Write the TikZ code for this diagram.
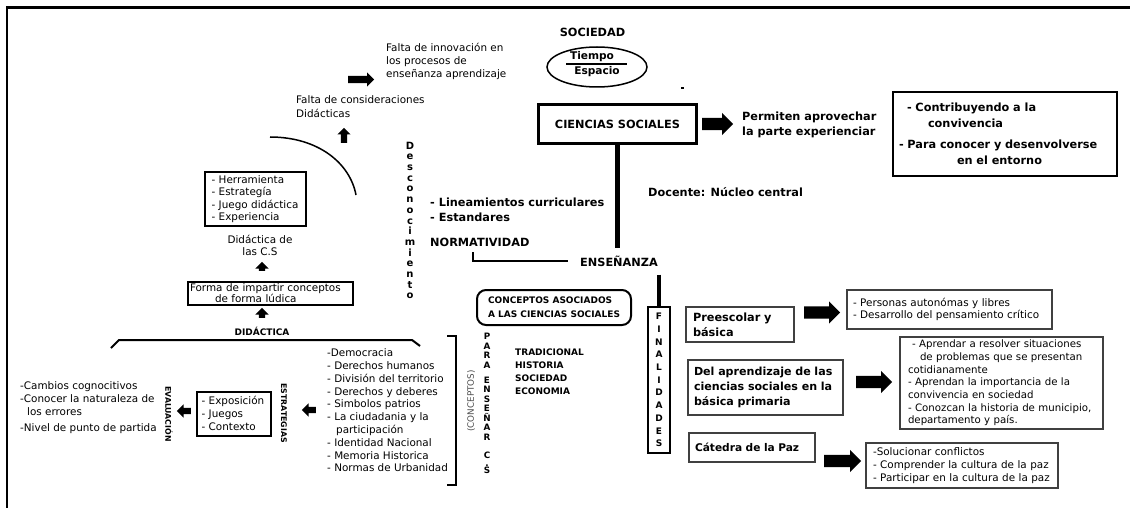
\documentclass[tikz,border=0pt]{standalone}
\usepackage{fontspec}
\setmainfont{DejaVu Sans}
\usetikzlibrary{shapes.geometric,shapes.arrows}
\newcommand\rgf{\fontsize{10.4}{12.6}\selectfont}
\newcommand\bgf{\bfseries\fontsize{11.3}{15}\selectfont}

\begin{document}
\begin{tikzpicture}[x=1pt,y=-1pt,inner sep=0pt,
  txt/.style={font=\rgf,align=left},
  btxt/.style={font=\bgf,align=left},
  sbox/.style={draw=black!75,line width=1.3pt,font=\rgf,align=left},
  kbox/.style={draw,line width=2pt,font=\rgf,align=left},
  fatarr/.style={single arrow,fill=black,inner sep=0pt,inner ysep=6pt,single arrow head extend=5pt,minimum height=36pt,anchor=tail},
  smallarr/.style={fatarr,inner ysep=3pt,single arrow head extend=3.5pt,minimum height=14pt}]
\useasboundingbox (0,0) rectangle (1130,508);
\draw[line width=3pt] (6,8) -- (1130,8);
\draw[line width=2pt] (7,8) -- (7,508);

% upper left
\node[txt,anchor=west,font=\fontsize{10.4}{13}\selectfont] (innov) at (386,61) {Falta de innovación en\\los procesos de\\enseñanza aprendizaje};
\node[smallarr,minimum height=26pt,inner ysep=3.5pt] (arrInnov) at (348,79.5) {};
\node[txt,anchor=west,font=\fontsize{10.4}{14}\selectfont] (consid) at (296,107) {Falta de consideraciones\\Didácticas};
\node[smallarr,rotate=90,minimum height=15pt] (arrConsid) at (344,143) {};
\draw[line width=1.5pt] (270,137) .. controls (318,137) and (350,163) .. (356,195);
\node[kbox,minimum height=54,inner xsep=6.5,text width=88,font=\fontsize{10.4}{12.4}\selectfont] (herr) at (255.5,199) {- Herramienta\\- Estrategía\\- Juego didáctica\\- Experiencia};
\node[txt,align=center] (dcs) at (260,245.5) {Didáctica de\\las C.S};
\node[smallarr,rotate=90,minimum height=9pt] (arrDcs) at (262,271) {};
\node[kbox,minimum height=23,inner xsep=2,text width=161,font=\fontsize{10.4}{11}\selectfont] (forma) at (270.5,293.5) {Forma de impartir conceptos\\\hspace*{25pt}de forma lúdica};
\node[smallarr,rotate=90,minimum height=10pt] (arrForma) at (262,318) {};
\node[font=\bfseries\fontsize{9}{11}\selectfont] (did) at (262,331) {DIDÁCTICA};
\draw[line width=2pt] (111,348) -- (119,340) -- (412,340) -- (420,346);
\node[align=center,font=\bfseries\fontsize{10}{10.7}\selectfont] (desc) at (410,220.5) {D\\e\\s\\c\\o\\n\\o\\c\\i\\m\\i\\e\\n\\t\\o};

% lower left
\node[txt,anchor=west,font=\fontsize{10.4}{12.8}\selectfont] (lst) at (327,410.5) {-Democracia\\- Derechos humanos\\- División del territorio\\- Derechos y deberes\\- Simbolos patrios\\- La ciudadania y la\\\hspace*{9pt}participación\\- Identidad Nacional\\- Memoria Historica\\- Normas de Urbanidad};
\node[smallarr,rotate=180] (arrLst) at (316,410) {};
\node[font=\bfseries\fontsize{7.8}{9}\selectfont,rotate=-90] (estr) at (284,413) {ESTRATEGIAS};
\node[kbox,minimum height=44,inner xsep=4.5,text width=65,font=\fontsize{10.4}{13}\selectfont] (expo) at (234,413.5) {- Exposición\\- Juegos\\- Contexto};
\node[smallarr,rotate=180] (arrExpo) at (191,411) {};
\node[font=\bfseries\fontsize{7.8}{9}\selectfont,rotate=-90] (eval) at (169,414) {EVALUACIÓN};
\node[txt,anchor=west,font=\fontsize{10.4}{12.8}\selectfont] (evl) at (20,407.5) {-Cambios cognocitivos\\-Conocer la naturaleza de\\\hspace*{7pt}los errores\\[3pt]-Nivel de punto de partida};
\draw[line width=2pt] (447,336) -- (456,336) -- (456,485) -- (447,485);
\node[rotate=90,font=\fontsize{8.8}{10}\selectfont,text=black!70] (cpt) at (471,401) {(CONCEPTOS)};
\node[align=center,font=\bfseries\fontsize{8.8}{9.5}\selectfont] (para) at (487,351) {P\\A\\R\\A};
\node[align=center,font=\bfseries\fontsize{8.8}{9.5}\selectfont] (ense) at (487,408.5) {E\\N\\S\\E\\Ñ\\A\\R};
\node[align=center,font=\bfseries\fontsize{8.8}{7.5}\selectfont] (csl) at (487,463) {C\\.\\S};
\node[anchor=west,align=left,font=\bfseries\fontsize{9}{13}\selectfont] (trad) at (515,371.5) {TRADICIONAL\\HISTORIA\\SOCIEDAD\\ECONOMIA};

% center
\node[btxt] (soc) at (592.5,32) {SOCIEDAD};
\node[draw,ellipse,line width=1.5pt,minimum width=100,minimum height=40] (tie) at (597,67) {};
\node[font=\bfseries\fontsize{10.6}{12}\selectfont] (tiempo) at (592,57) {Tiempo};
\node[font=\bfseries\fontsize{10.6}{12}\selectfont] (espacio) at (597,72) {Espacio};
\draw[line width=1.2pt] (566,64) -- (627,64);
\fill (681,87) rectangle (684,89.5);
\node[draw,line width=3pt,minimum width=158,minimum height=39,font=\bgf] (cs) at (617.5,124) {CIENCIAS SOCIALES};
\node[fatarr,minimum height=31pt] (arrCs) at (702,124) {};
\node[btxt,anchor=west] (perm) at (742,124.5) {Permiten aprovechar\\la parte experienciar};
\node[draw,line width=1.5pt,minimum height=84,inner xsep=6,text width=212,align=left,font=\bfseries\fontsize{11.3}{16}\selectfont] (contr) at (1005,134) {\hspace*{8pt}- Contribuyendo a la\\\hspace*{29pt}convivencia\\[5pt]- Para conocer y desenvolverse\\\hspace*{58pt}en el entorno};
\node[btxt,anchor=west] (doc) at (648,192) {Docente: Núcleo central};
\node[btxt,anchor=west] (linea) at (430,209.5) {- Lineamientos curriculares\\- Estandares};
\node[btxt,anchor=west] (norm) at (430,242) {NORMATIVIDAD};
\node[btxt,anchor=west] (ensen) at (580,261) {ENSEÑANZA};
\draw[line width=4.5pt,shorten >=7pt] (cs.south) -- (cs.south |- ensen.north);
\draw[line width=2pt,shorten <=6pt] ([xshift=43pt]norm.south west) |- ([xshift=-12pt]ensen.west);
\node[draw,rounded corners=9pt,line width=2pt,minimum width=154,minimum height=35,align=left,font=\bfseries\fontsize{9}{14}\selectfont] (asoc) at (554,307.5) {CONCEPTOS ASOCIADOS\\A LAS CIENCIAS SOCIALES};
\node[draw,line width=2.5pt,minimum width=22,minimum height=146,align=center,font=\bfseries\fontsize{9}{12.7}\selectfont] (fin) at (659,380) {F\\I\\N\\A\\L\\I\\D\\A\\D\\E\\S};
\draw[line width=4pt,shorten <=8pt] (fin.north |- ensen.south) -- (fin.north);

% right
\node[sbox,minimum height=35,inner xsep=7,text width=94,font=\bgf] (pre) at (740,324.5) {Preescolar y\\básica};
\node[fatarr] (arrPre) at (804,312.5) {};
\node[sbox,minimum height=39,inner xsep=6,text width=193,font=\fontsize{10.4}{12}\selectfont] (pers) at (949.5,309.5) {- Personas autonómas y libres\\- Desarrollo del pensamiento crítico};
\node[sbox,minimum height=55,inner xsep=6,text width=143,font=\bfseries\fontsize{11.1}{15}\selectfont] (del) at (765.5,387.5) {Del aprendizaje de las\\ciencias sociales en la\\básica primaria};
\node[fatarr] (arrDel) at (856,382) {};
\node[sbox,minimum height=92,inner xsep=8,text width=187,font=\fontsize{10.2}{12.7}\selectfont] (apr) at (1001.5,383) {\hspace*{4pt}- Aprendar a resolver situaciones\\\hspace*{12pt}de problemas que se presentan\\cotidianamente\\- Aprendan la importancia de la\\convivencia en sociedad\\- Conozcan la historia de municipio,\\departamento y país.};
\node[sbox,minimum height=29,inner xsep=6,text width=114,font=\bfseries\fontsize{10.6}{13}\selectfont] (cat) at (752,447.5) {Cátedra de la Paz};
\node[fatarr,minimum height=37pt] (arrCat) at (824,461) {};
\node[sbox,minimum height=45,inner xsep=7,text width=178,font=\fontsize{10.4}{13}\selectfont] (sol) at (962,465.5) {-Solucionar conflictos\\- Comprender la cultura de la paz\\- Participar en la cultura de la paz};
\end{tikzpicture}
\end{document}
